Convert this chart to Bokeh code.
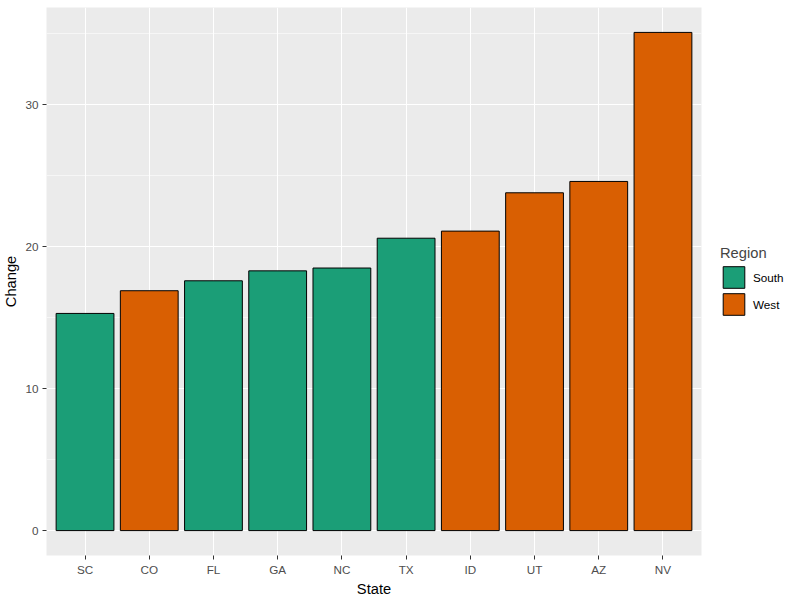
from bokeh.plotting import figure
from bokeh.models import (FactorRange, Range1d, Legend, LegendItem, ColumnDataSource,
                          SingleIntervalTicker)
from bokeh.embed import file_html
from bokeh.resources import INLINE

states = ["SC", "CO", "FL", "GA", "NC", "TX", "ID", "UT", "AZ", "NV"]
change = [15.3, 16.9, 17.6, 18.3, 18.5, 20.6, 21.1, 23.8, 24.6, 35.1]
region = ["South", "West", "South", "South", "South", "South", "West", "West", "West", "West"]
regions = ["South", "West"]
colors = {"South": "#1B9E77", "West": "#D95F02"}

FONT = "Liberation Sans"
ymax = max(change)
p = figure(
    frame_width=655, frame_height=548,
    x_range=FactorRange(*states, range_padding=0.1, range_padding_units="absolute"),
    y_range=Range1d(-0.05 * ymax, 1.05 * ymax),
    output_backend="svg", toolbar_location=None,
    min_border_left=46, min_border_right=99, min_border_top=7, min_border_bottom=45,
)
p.background_fill_color = "#EBEBEB"
p.border_fill_color = "white"
p.outline_line_color = None

renderers = {}
for reg in regions:
    idx = [i for i, r in enumerate(region) if r == reg]
    src = ColumnDataSource(dict(x=[states[i] for i in idx], top=[change[i] for i in idx]))
    renderers[reg] = p.vbar(x="x", top="top", bottom=0, width=0.9, source=src,
                            fill_color=colors[reg], line_color="black", line_width=1)

# grids
p.yaxis.ticker = SingleIntervalTicker(interval=10, num_minor_ticks=2)
p.ygrid.ticker = SingleIntervalTicker(interval=10, num_minor_ticks=2)
for g in (p.xgrid, p.ygrid):
    g.grid_line_color = "white"
    g.grid_line_width = 1.1
p.ygrid.minor_grid_line_color = "white"
p.ygrid.minor_grid_line_width = 0.55

# axes
for ax in (p.xaxis, p.yaxis):
    ax.axis_line_color = None
    ax.major_tick_line_color = "#333333"
    ax.major_tick_in = 0
    ax.major_tick_out = 4
    ax.minor_tick_line_color = None
    ax.major_label_text_color = "#4D4D4D"
    ax.major_label_text_font = FONT
    ax.major_label_text_font_size = "11.7px"
    ax.axis_label_text_font = FONT
    ax.axis_label_text_font_size = "14.7px"
    ax.axis_label_text_font_style = "normal"
    ax.axis_label_text_color = "black"
p.xaxis.major_label_standoff = 3
p.yaxis.major_label_standoff = 4
p.xaxis.axis_label = "State"
p.yaxis.axis_label = "Change"
p.xaxis.axis_label_standoff = 2
p.yaxis.axis_label_standoff = 3

legend = Legend(
    items=[LegendItem(label=reg, renderers=[renderers[reg]]) for reg in regions],
    location="center_left", title="Region",
    title_text_font=FONT, title_text_font_size="14.7px", title_text_font_style="normal",
    title_standoff=3,
    label_text_font=FONT, label_text_font_size="11.7px", label_text_color="black",
    glyph_width=27, glyph_height=27, spacing=0, padding=0, margin=19,
    label_standoff=6, border_line_color=None, background_fill_alpha=0,
)
p.add_layout(legend, "right")

open("out.html", "w").write(file_html(p, INLINE))
